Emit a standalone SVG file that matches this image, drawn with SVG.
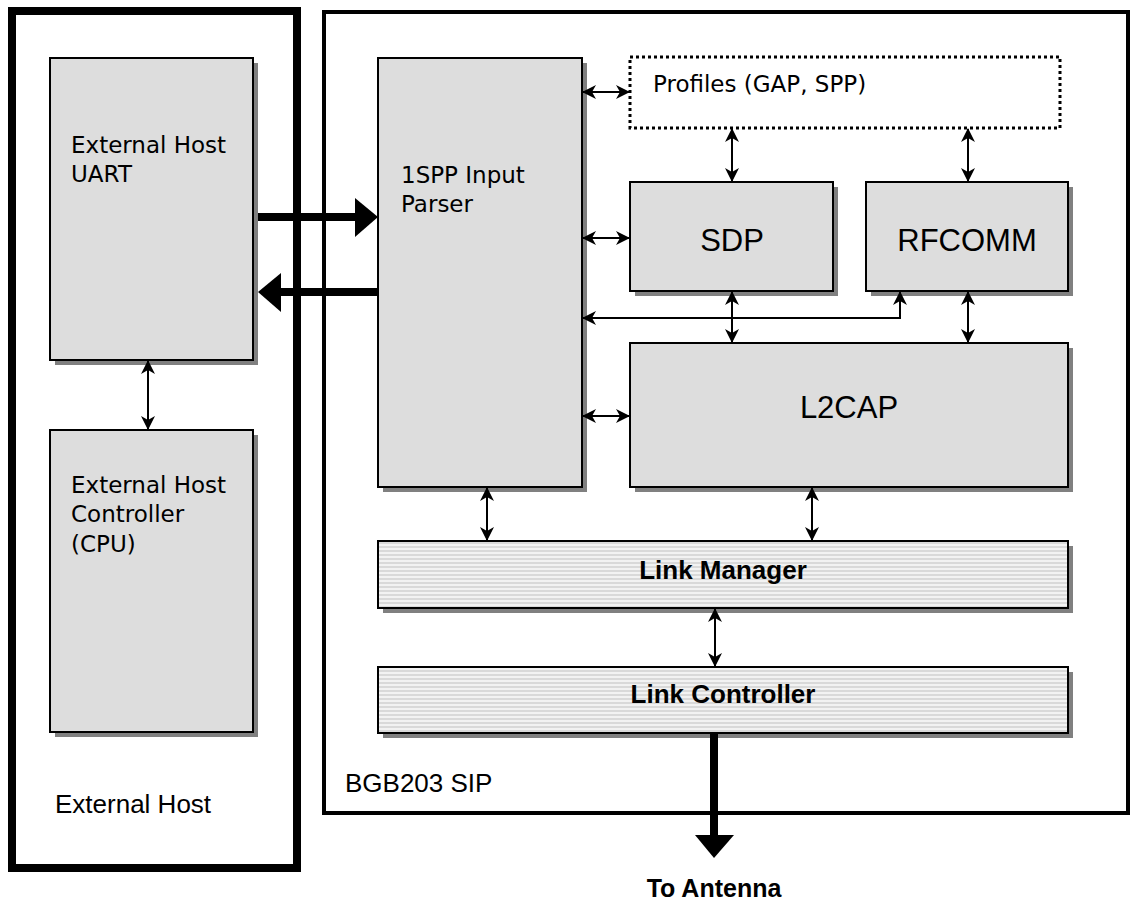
<svg xmlns="http://www.w3.org/2000/svg" width="1131" height="905" viewBox="0 0 1131 905">
<style>
.box{fill:#dddddd;stroke:#000;stroke-width:2}
.shadow{fill:#808080}
.striped{fill:url(#stripes);stroke:#000;stroke-width:2}
.t{font-family:"DejaVu Sans",Verdana,sans-serif;font-size:23px;fill:#000}
.a{font-family:"Liberation Sans",Arial,sans-serif;fill:#000}
.thin{stroke:#000;stroke-width:2;fill:none;marker-start:url(#ah);marker-end:url(#ah)}
.thick{stroke:#000;stroke-width:8;fill:none}
</style>
<defs>
<pattern id="stripes" width="4" height="4" patternUnits="userSpaceOnUse">
<rect width="4" height="4" fill="#f2f2f2"/>
<rect y="2" width="4" height="2" fill="#d9d9d9"/>
</pattern>
<marker id="ah" viewBox="0 0 14 14" refX="13" refY="7" markerWidth="14" markerHeight="14" markerUnits="userSpaceOnUse" orient="auto-start-reverse">
<path d="M0,0 L14,7 L0,14 L4,7 z" fill="#000"/>
</marker>
</defs>
<rect width="1131" height="905" fill="#fff"/>

<g id="external-host">
<rect x="12" y="11" width="285" height="857" fill="none" stroke="#000" stroke-width="8"/>
<text class="a" x="55" y="813" font-size="26">External Host</text>
</g>

<g id="bgb203-sip">
<rect x="324" y="12" width="804" height="801" fill="none" stroke="#000" stroke-width="4"/>
<text class="a" x="345" y="792" font-size="26">BGB203 SIP</text>
</g>

<g id="uart">
<rect class="shadow" x="55" y="63" width="203" height="302"/>
<rect class="box" x="50" y="58" width="203" height="302"/>
<text class="t" x="71" y="153">External Host</text>
<text class="t" x="71" y="182">UART</text>
</g>

<g id="controller">
<rect class="shadow" x="55" y="435" width="203" height="302"/>
<rect class="box" x="50" y="430" width="203" height="302"/>
<text class="t" x="71" y="493">External Host</text>
<text class="t" x="71" y="522">Controller</text>
<text class="t" x="71" y="552">(CPU)</text>
</g>

<g id="parser">
<rect class="shadow" x="383" y="63" width="204" height="429"/>
<rect class="box" x="378" y="58" width="204" height="429"/>
<text class="t" x="401" y="183">1SPP Input</text>
<text class="t" x="401" y="212">Parser</text>
</g>

<g id="profiles">
<rect x="630" y="57" width="430" height="71" fill="#fff" stroke="#000" stroke-width="3" stroke-dasharray="3,3"/>
<text class="t" x="653" y="92">Profiles (GAP, SPP)</text>
</g>

<g id="sdp">
<rect class="shadow" x="635" y="187" width="203" height="109"/>
<rect class="box" x="630" y="182" width="203" height="109"/>
<text class="a" x="732" y="251" font-size="31" text-anchor="middle">SDP</text>
</g>

<g id="rfcomm">
<rect class="shadow" x="871" y="187" width="202" height="109"/>
<rect class="box" x="866" y="182" width="202" height="109"/>
<text class="a" x="967" y="251" font-size="31" text-anchor="middle">RFCOMM</text>
</g>

<g id="l2cap">
<rect class="shadow" x="635" y="348" width="438" height="144"/>
<rect class="box" x="630" y="343" width="438" height="144"/>
<text class="a" x="849" y="418" font-size="31" text-anchor="middle">L2CAP</text>
</g>

<g id="link-manager">
<rect class="shadow" x="383" y="546" width="690" height="67"/>
<rect class="striped" x="378" y="541" width="690" height="67"/>
<text class="a" x="723" y="579" font-size="26" font-weight="bold" text-anchor="middle">Link Manager</text>
</g>

<g id="link-controller">
<rect class="shadow" x="383" y="672" width="690" height="66"/>
<rect class="striped" x="378" y="667" width="690" height="66"/>
<text class="a" x="723" y="703" font-size="26" font-weight="bold" text-anchor="middle">Link Controller</text>
</g>

<g id="connectors">
<line class="thin" x1="148" y1="361" x2="148" y2="429"/>
<line class="thin" x1="583" y1="92" x2="629" y2="92"/>
<line class="thin" x1="583" y1="238" x2="629" y2="238"/>
<line class="thin" x1="583" y1="416" x2="629" y2="416"/>
<line class="thin" x1="732" y1="129" x2="732" y2="181"/>
<line class="thin" x1="968" y1="129" x2="968" y2="181"/>
<line class="thin" x1="732" y1="292" x2="732" y2="342"/>
<line class="thin" x1="968" y1="292" x2="968" y2="342"/>
<polyline class="thin" points="583,318 900,318 900,292"/>
<line class="thin" x1="487" y1="488" x2="487" y2="540"/>
<line class="thin" x1="812" y1="488" x2="812" y2="540"/>
<line class="thin" x1="715" y1="609" x2="715" y2="666"/>
<line class="thick" x1="258" y1="217" x2="357" y2="217"/>
<polygon points="355,198 378,217 355,237" fill="#000"/>
<line class="thick" x1="378" y1="292" x2="278" y2="292"/>
<polygon points="281,273 258,292 281,312" fill="#000"/>
<line class="thick" x1="714" y1="734" x2="714" y2="837"/>
<polygon points="695,835 734,835 714,858" fill="#000"/>
</g>
<text class="a" x="714" y="897" font-size="25" font-weight="bold" text-anchor="middle">To Antenna</text>
</svg>
